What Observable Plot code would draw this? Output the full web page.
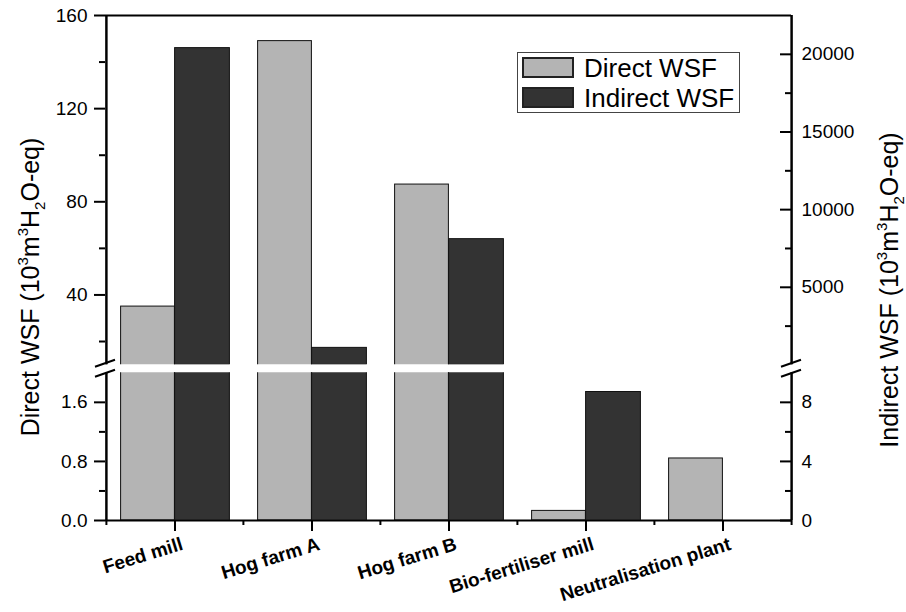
<!DOCTYPE html>
<html>
<head>
<meta charset="utf-8">
<script src="https://cdn.jsdelivr.net/npm/d3@7"></script>
<script src="https://cdn.jsdelivr.net/npm/@observablehq/plot@0.6"></script>
<style>
  body { margin: 0; background: #fff; }
  #chart { position: relative; width: 906px; height: 612px; overflow: hidden; background: #fff;
           font-family: "Liberation Sans", Arial, sans-serif; color: #000; }
  #chart svg { position: absolute; left: 0; top: 0; }
  .ylab { position: absolute; white-space: nowrap; font-size: 25px; line-height: 1;
          transform: translate(-50%, -50%) rotate(-90deg); }
  .ylab .sup { font-size: 60%; position: relative; top: -0.75em; }
  .ylab .sub { font-size: 60%; position: relative; top: 0.4em; }
  .legend { position: absolute; left: 517px; top: 52px; width: 223px; height: 61px;
            border: 1px solid #444; box-sizing: border-box; background: #fff; }
  .legend .sw { position: absolute; left: 4px; width: 52px; height: 21px; box-sizing: border-box;
                border: 2px solid #222; }
  .legend .tx { position: absolute; left: 66px; font-size: 26px; line-height: 26px; white-space: nowrap; }
</style>
</head>
<body>
<div id="chart"></div>
<script>
// ---------- data ----------
const categories = ["Feed mill", "Hog farm A", "Hog farm B", "Bio-fertiliser mill", "Neutralisation plant"];
const directWSF = [35, 149, 87.4, 0.13, 0.84];          // 10^3 m3 H2O-eq (left axis)
const indirectWSF = [20400, 1100, 8100, 8.7, 0];        // 10^3 m3 H2O-eq (right axis)

const directUpperDomain = [10, 160];
const directLowerDomain = [0, 2];
const indirectUpperDomain = [10, 22500];
const indirectLowerDomain = [0, 10];

const directUpperTicks = [40, 80, 120, 160];
const directUpperMinor = [20, 60, 100, 140];
const directLowerTicks = [0, 0.8, 1.6];
const directLowerMinor = [0.4, 1.2];
const indirectUpperTicks = [5000, 10000, 15000, 20000];
const indirectUpperMinor = [2500, 7500, 12500, 17500];
const indirectLowerTicks = [0, 4, 8];
const indirectLowerMinor = [2, 6];

const seriesNames = ["Direct WSF", "Indirect WSF"];
const seriesColors = ["#b4b4b4", "#333333"];

const rows = categories.map((c, i) => ({category: c, direct: directWSF[i], indirect: indirectWSF[i]}));

// ---------- layout ----------
const W = 906, H = 612;
const ML = 105, MR = 115;
const upperTop = 15, upperBottom = 364.3, lowerTop = 372.3, lowerBottom = 520;
const frameW = W - ML - MR;
const bw = frameW / categories.length;
const FONT = "'Liberation Sans', Arial, sans-serif";
const chart = document.getElementById("chart");

function makePanel({domain, top, bottom, key, fill, side, ticks, minor, fmt, extra = []}) {
  const left = side === "left";
  const marks = [
    Plot.barY(rows, {
      x: "category", y: key, fill, stroke: "#111", strokeWidth: 1, clip: true,
      filter: d => d[key] > domain[0],
      insetLeft: left ? 14.6 : bw / 2, insetRight: left ? bw / 2 : 13.6
    }),
    // tick labels
    Plot.axisY(ticks, {anchor: side, tickSize: left ? 11 : 0, tickPadding: left ? 7 : 10,
                       tickFormat: fmt, strokeWidth: 2, fontSize: 19, label: null}),
    // minor ticks (outward on left, inward on right)
    Plot.axisY(minor, {anchor: "left", tickSize: 6, fill: "none", strokeWidth: 2, label: null,
                       dx: left ? 0 : frameW}),
    // frame verticals
    Plot.ruleX([categories[0]], {dx: -bw / 2, strokeWidth: 2}),
    Plot.ruleX([categories[categories.length - 1]], {dx: bw / 2, strokeWidth: 2}),
    ...extra
  ];
  if (!left) {
    marks.push(Plot.axisY(ticks, {anchor: "left", tickSize: 11, fill: "none", strokeWidth: 2,
                                  label: null, dx: frameW}));
  }
  const svg = Plot.plot({
    width: W, height: H,
    marginLeft: ML, marginRight: MR, marginTop: top, marginBottom: H - bottom,
    style: {background: "transparent", overflow: "visible", fontFamily: FONT, fontSize: "19px", color: "#000"},
    x: {domain: categories, padding: 0, axis: null},
    y: {domain, axis: null},
    marks
  });
  chart.appendChild(svg);
  return svg;
}

// upper, direct (left axis)
makePanel({domain: directUpperDomain, top: upperTop, bottom: upperBottom, key: "direct", fill: seriesColors[0],
  side: "left", ticks: directUpperTicks, minor: directUpperMinor, fmt: d => String(d),
  extra: [Plot.ruleY([directUpperDomain[1]], {strokeWidth: 2})]});
// upper, indirect (right axis)
makePanel({domain: indirectUpperDomain, top: upperTop, bottom: upperBottom, key: "indirect", fill: seriesColors[1],
  side: "right", ticks: indirectUpperTicks, minor: indirectUpperMinor, fmt: d => String(d)});
// lower, direct (left axis) + x axis
makePanel({domain: directLowerDomain, top: lowerTop, bottom: lowerBottom, key: "direct", fill: seriesColors[0],
  side: "left", ticks: directLowerTicks, minor: directLowerMinor, fmt: d => d.toFixed(1),
  extra: [
    Plot.ruleY([0], {strokeWidth: 2}),
    Plot.axisX(categories, {anchor: "bottom", tickSize: 11, fill: "none", strokeWidth: 2, label: null}),
    Plot.axisX(categories, {anchor: "bottom", tickSize: 5, fill: "none", strokeWidth: 2, label: null, dx: -bw / 2}),
    Plot.axisX([categories[categories.length - 1]], {anchor: "bottom", tickSize: 5, fill: "none", strokeWidth: 2, label: null, dx: bw / 2}),
    Plot.text(categories, {x: d => d, text: d => d, frameAnchor: "bottom", textAnchor: "end", lineAnchor: "bottom",
      rotate: -17, dx: 9, dy: 29, fontWeight: "bold", fontSize: 19})
  ]});
// lower, indirect (right axis)
makePanel({domain: indirectLowerDomain, top: lowerTop, bottom: lowerBottom, key: "indirect", fill: seriesColors[1],
  side: "right", ticks: indirectLowerTicks, minor: indirectLowerMinor, fmt: d => String(d)});

// axis break marks
const brk = d3.select(chart).append("svg").attr("width", W).attr("height", H)
  .style("position", "absolute").style("left", 0).style("top", 0).style("overflow", "visible");
for (const x of [ML, W - MR]) {
  for (const y of [upperBottom - 1, lowerTop + 1]) {
    brk.append("line").attr("x1", x - 10).attr("y1", y + 3.5).attr("x2", x + 10).attr("y2", y - 3.5)
      .attr("stroke", "#000").attr("stroke-width", 2);
  }
}

// axis titles
const yl = document.createElement("div");
yl.className = "ylab";
yl.style.left = "30px"; yl.style.top = "287px";
yl.innerHTML = 'Direct WSF (10<span class="sup">3</span>m<span class="sup">3</span>H<span class="sub">2</span>O-eq)';
chart.appendChild(yl);
const yr = document.createElement("div");
yr.className = "ylab";
yr.style.left = "889px"; yr.style.top = "290px";
yr.innerHTML = 'Indirect WSF (10<span class="sup">3</span>m<span class="sup">3</span>H<span class="sub">2</span>O-eq)';
chart.appendChild(yr);

// legend
const lg = document.createElement("div");
lg.className = "legend";
seriesNames.forEach((name, i) => {
  const sw = document.createElement("div");
  sw.className = "sw"; sw.style.top = (4 + i * 29.5) + "px"; sw.style.background = seriesColors[i];
  lg.appendChild(sw);
  const tx = document.createElement("div");
  tx.className = "tx"; tx.style.top = (2 + i * 29.5) + "px"; tx.textContent = name;
  lg.appendChild(tx);
});
chart.appendChild(lg);
</script>
</body>
</html>
